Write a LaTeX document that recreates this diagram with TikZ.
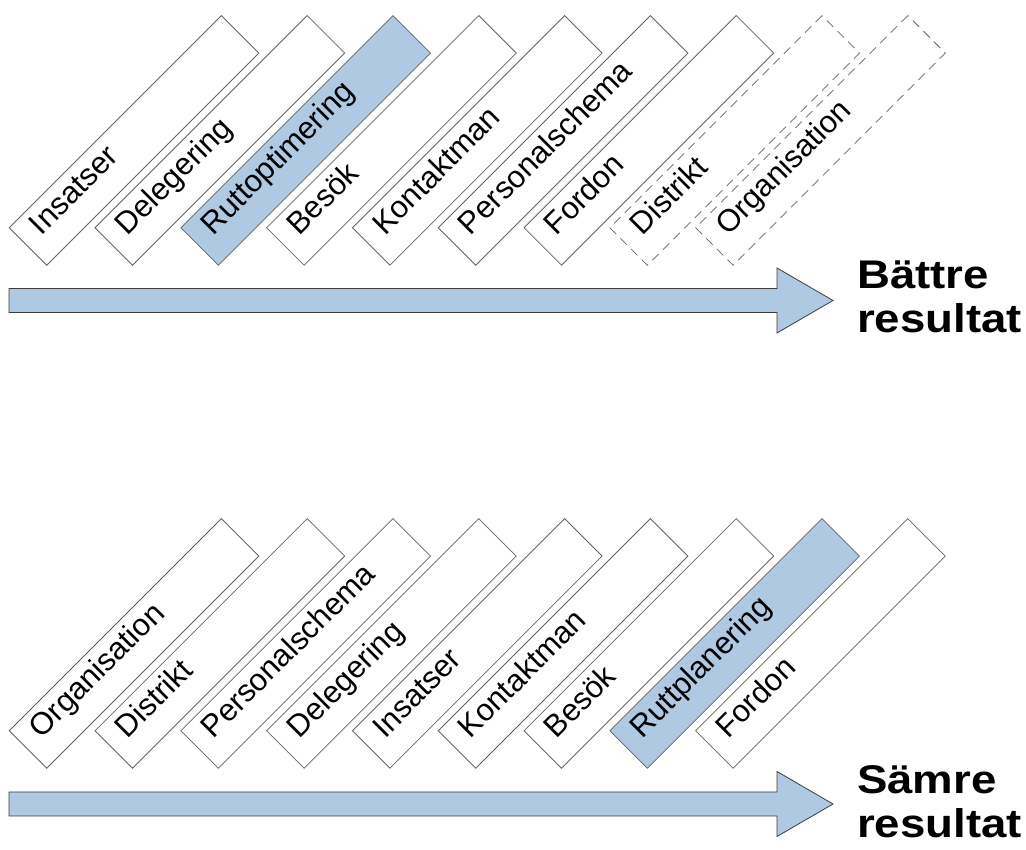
\documentclass[tikz,border=0pt]{standalone}
\usepackage{fontspec}
\setmainfont{Liberation Sans}
\newfontfamily\widefont[FakeStretch=1.14]{Liberation Sans}
\definecolor{hlblue}{RGB}{176,201,227}
\definecolor{boxline}{RGB}{100,100,100}
\definecolor{arrline}{RGB}{60,60,60}
\begin{document}
\begin{tikzpicture}[x=1pt,y=1pt,
  box/.style={draw=boxline, line width=0.8pt, rotate=45, anchor=west,
    minimum width=300pt, minimum height=53pt, inner sep=0pt, outer sep=0pt},
  hl/.style={fill=hlblue},
  dashbox/.style={dash pattern=on 9pt off 6pt, draw=boxline},
  lab/.style={rotate=45, anchor=west, inner xsep=17pt, inner ysep=0pt,
    font=\fontsize{31}{36}\selectfont, text height=0.75em, text depth=0.25em},
  result/.style={anchor=base west, inner sep=0pt,
    font=\widefont\bfseries\fontsize{40}{46}\selectfont},
  bigarrow/.style={draw=arrline, line width=0.8pt, fill=hlblue}
]
\useasboundingbox (0,0) rectangle (1026,850);

% top row (y = 850 - 246.5)
\foreach \name/\txt/\sty [count=\i from 0] in {
  t1/Insatser/, t2/Delegering/, t3/Ruttoptimering/hl, t4/Besök/,
  t5/Kontaktman/, t6/Personalschema/, t7/Fordon/, t8/Distrikt/dashbox,
  t9/Organisation/dashbox}{
  \node[box,\sty] (\name) at ({28+85.8*\i},603.5) {};
  \node[lab] (\name l) at (\name.west) {\txt};
}

% bottom row (y = 850 - 749.5)
\foreach \name/\txt/\sty [count=\i from 0] in {
  b1/Organisation/, b2/Distrikt/, b3/Personalschema/, b4/Delegering/,
  b5/Insatser/, b6/Kontaktman/, b7/Besök/, b8/Ruttplanering/hl,
  b9/Fordon/}{
  \node[box,\sty] (\name) at ({28+85.8*\i},100.5) {};
  \node[lab] (\name l) at (\name.west) {\txt};
}

% arrows
\draw[bigarrow] (9,561.5) -- (777,561.5) -- (777,582) -- (833,549.5)
  -- (777,517) -- (777,537.5) -- (9,537.5) -- cycle;
\draw[bigarrow] (9,58) -- (777,58) -- (777,78.5) -- (833,46)
  -- (777,13.5) -- (777,34) -- (9,34) -- cycle;

% result labels
\node[result] (r1a) at (857,561) {Bättre};
\node[result] (r1b) at (857,517) {resultat};
\node[result] (r2a) at (857,56) {Sämre};
\node[result] (r2b) at (857,12) {resultat};
\end{tikzpicture}
\end{document}
